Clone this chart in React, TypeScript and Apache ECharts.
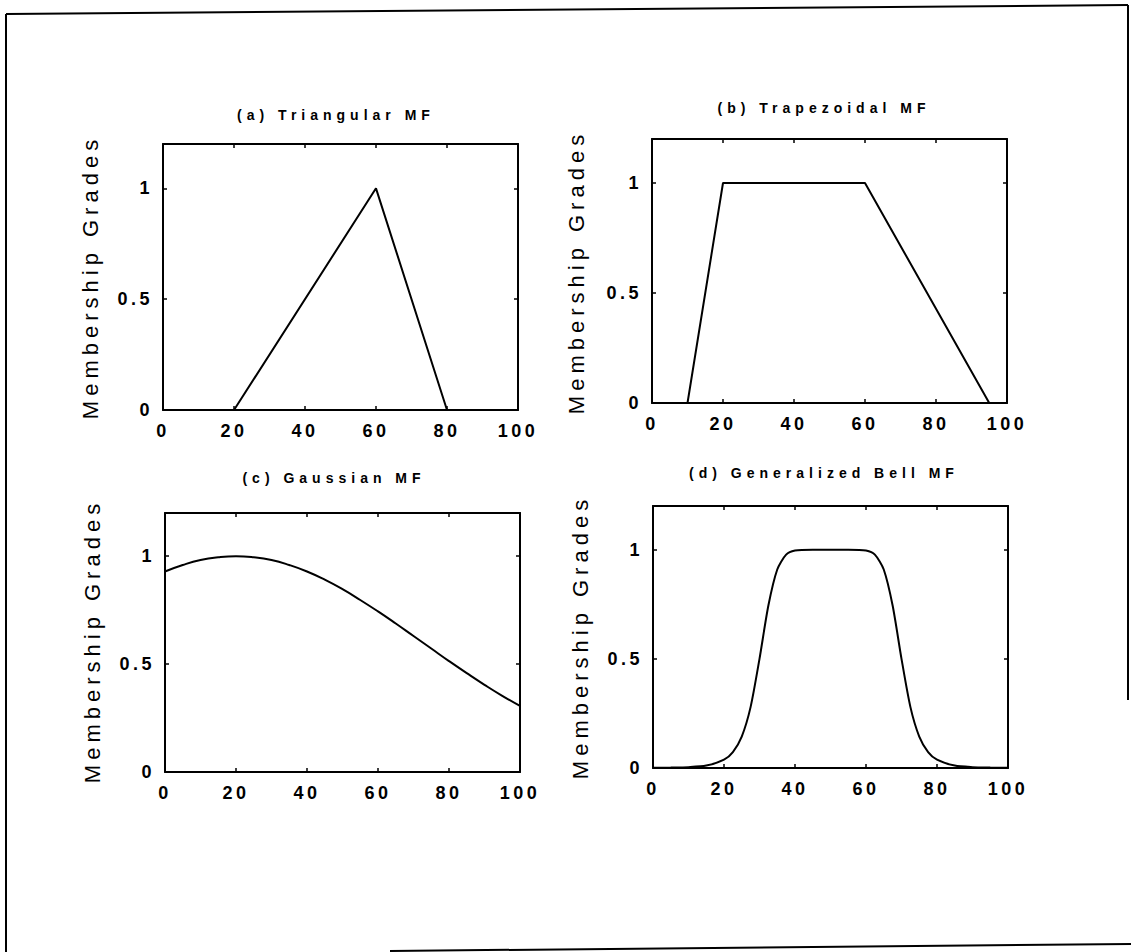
import React, { useEffect, useRef } from "react";
import * as echarts from "echarts";

// ---- data ----
const xTicks = [0, 20, 40, 60, 80, 100];
const yTicks = [0, 0.5, 1];

const titles = ["(a) Triangular MF", "(b) Trapezoidal MF", "(c) Gaussian MF", "(d) Generalized Bell MF"];
const yName = "Membership Grades";

const triX = [0, 20, 60, 80, 100];
const triY = [0, 0, 1, 0, 0];

const trapX = [0, 10, 20, 60, 95, 100];
const trapY = [0, 0, 1, 1, 0, 0];

const gaussX = [0, 5, 10, 15, 20, 25, 30, 35, 40, 45, 50, 55, 60, 65, 70, 75, 80, 85, 90, 95, 100];
const gaussY = [0.929, 0.959, 0.982, 0.995, 1, 0.995, 0.982, 0.959, 0.929, 0.891, 0.847, 0.797, 0.744, 0.688, 0.63, 0.572, 0.514, 0.458, 0.404, 0.353, 0.306];

const bellX = [0, 5, 10, 15, 20, 22.5, 25, 27.5, 30, 32.5, 35, 37.5, 40, 45, 50, 55, 60, 62.5, 65, 67.5, 70, 72.5, 75, 77.5, 80, 85, 90, 95, 100];
const bellY = [0.001, 0.002, 0.004, 0.011, 0.038, 0.073, 0.144, 0.28, 0.5, 0.744, 0.909, 0.977, 0.996, 1, 1, 1, 0.996, 0.977, 0.909, 0.744, 0.5, 0.28, 0.144, 0.073, 0.038, 0.011, 0.004, 0.002, 0.001];

const seriesX = [triX, trapX, gaussX, bellX];
const seriesY = [triY, trapY, gaussY, bellY];
const smoothVals: (number | boolean)[] = [false, false, 0.5, 0.25];

// ---- layout ----
const grids = [
  { left: 163, top: 144, width: 355, height: 266 },
  { left: 652, top: 139, width: 355, height: 264 },
  { left: 165, top: 513, width: 355, height: 259 },
  { left: 653, top: 506, width: 355, height: 262 },
];
const titlePos = [
  [336, 115],
  [824, 108],
  [334, 478],
  [824, 473],
];
const namePos = [
  [90, 277],
  [576, 272],
  [92, 641],
  [580, 637],
];

const FONT = "'Liberation Sans', Arial, sans-serif";

const css = `
#mfchart text[style*="14px"] { letter-spacing: 5px; }
#mfchart text[style*="18px"] { letter-spacing: 3.5px; }
#mfchart text[style*="22px"] { letter-spacing: 5px; }
`;

export default function App() {
  const ref = useRef<HTMLDivElement>(null);
  useEffect(() => {
    if (!ref.current) return;
    const chart = echarts.init(ref.current, null, { renderer: "svg" });
    const xAxis: any[] = [];
    const yAxis: any[] = [];
    const series: any[] = [];
    const tickStyle = { show: true, inside: true, length: 4, lineStyle: { color: "#000", width: 1.5 } };
    const lineStyle = { show: true, onZero: false, lineStyle: { color: "#000", width: 2 } };
    grids.forEach((g, i) => {
      xAxis.push({
        gridIndex: i, type: "value", position: "bottom", min: xTicks[0], max: xTicks[xTicks.length - 1], interval: 20,
        axisLine: lineStyle, axisTick: tickStyle, splitLine: { show: false },
        axisLabel: { color: "#000", fontSize: 18, fontWeight: "bold", fontFamily: FONT, margin: 12 },
      });
      xAxis.push({
        gridIndex: i, type: "value", position: "top", min: 0, max: 100, interval: 20,
        axisLine: lineStyle, axisTick: tickStyle, splitLine: { show: false }, axisLabel: { show: false },
      });
      yAxis.push({
        gridIndex: i, type: "value", position: "left", min: yTicks[0], max: 1.2, interval: 0.5,
        axisLine: lineStyle, axisTick: tickStyle, splitLine: { show: false },
        axisLabel: { color: "#000", fontSize: 18, fontWeight: "bold", fontFamily: FONT, margin: 10, showMaxLabel: false },
      });
      yAxis.push({
        gridIndex: i, type: "value", position: "right", min: 0, max: 1.2, interval: 0.5,
        axisLine: lineStyle, axisTick: tickStyle, splitLine: { show: false }, axisLabel: { show: false },
      });
      series.push({
        type: "line", xAxisIndex: i * 2, yAxisIndex: i * 2, symbol: "none",
        smooth: smoothVals[i],
        lineStyle: { color: "#000", width: 2 },
        data: seriesX[i].map((x, k) => [x, seriesY[i][k]]),
      });
    });
    const graphic: any[] = [];
    titles.forEach((t, i) => {
      graphic.push({
        type: "text", x: titlePos[i][0], y: titlePos[i][1],
        style: { text: t, fill: "#000", font: `bold 14px ${FONT}`, align: "center", verticalAlign: "middle" },
      });
      graphic.push({
        type: "text", x: namePos[i][0], y: namePos[i][1], rotation: Math.PI / 2,
        style: { text: yName, fill: "#000", font: `22px ${FONT}`, align: "center", verticalAlign: "middle" },
      });
    });
    // outer frame (slightly skewed scan)
    graphic.push({ type: "line", shape: { x1: 6, y1: 14, x2: 6, y2: 952 }, style: { stroke: "#000", lineWidth: 2 } });
    graphic.push({ type: "line", shape: { x1: 6, y1: 14, x2: 1128, y2: 5 }, style: { stroke: "#000", lineWidth: 2 } });
    graphic.push({ type: "line", shape: { x1: 1128, y1: 5, x2: 1128, y2: 700 }, style: { stroke: "#000", lineWidth: 2 } });
    graphic.push({ type: "line", shape: { x1: 390, y1: 951, x2: 1131, y2: 944 }, style: { stroke: "#000", lineWidth: 2 } });

    chart.setOption({
      animation: false,
      backgroundColor: "#fff",
      grid: grids.map((g) => ({ ...g, containLabel: false })),
      xAxis,
      yAxis,
      series,
      graphic,
    });
    return () => chart.dispose();
  }, []);
  return (
    <>
      <style>{css}</style>
      <div id="mfchart" ref={ref} style={{ position: "absolute", left: 0, top: 0, width: 1131, height: 952, background: "#fff" }} />
    </>
  );
}
